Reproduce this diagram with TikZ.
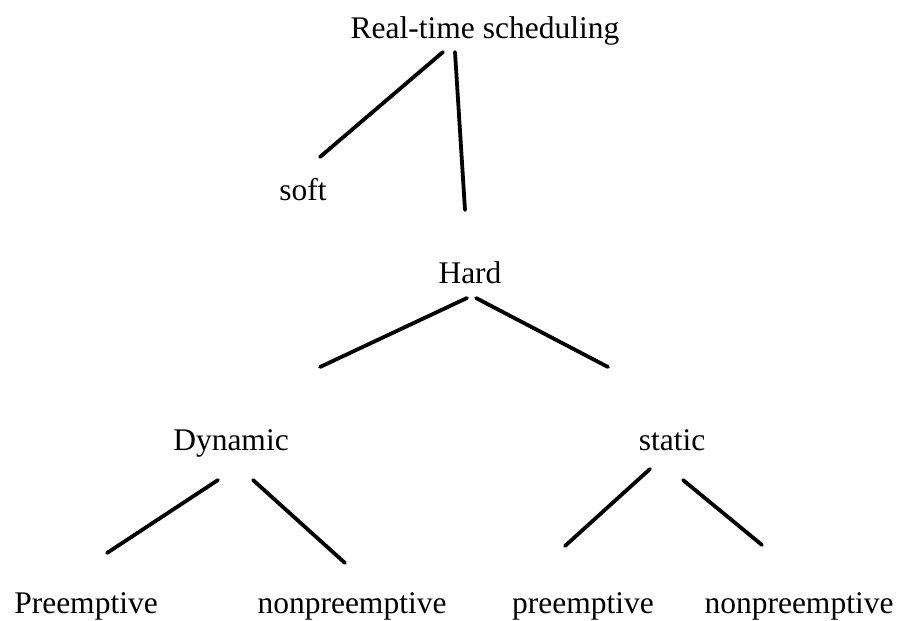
\documentclass[tikz,border=0pt]{standalone}
\usepackage{fontspec}
\setmainfont{Liberation Serif}
\begin{document}
\begin{tikzpicture}[x=1pt,y=-1pt,
  label/.style={anchor=base,inner sep=0pt,font=\fontsize{31.5}{36}\selectfont},
  branch/.style={line width=3.8pt,line cap=round}]
\useasboundingbox (0,0) rectangle (898,621);
\fill[white] (0,0) rectangle (898,621);

% labels of the tree
\node[label] (rt)   at (485,38)  {Real-time scheduling};
\node[label] (soft) at (303,200) {soft};
\node[label] (hard) at (470,283) {Hard};
\node[label] (dyn)  at (231,450) {Dynamic};
\node[label] (stat) at (672,450) {static};
\node[label] (dp)   at (86,613)  {Preemptive};
\node[label] (dn)   at (352,613) {nonpreemptive};
\node[label] (sp)   at (583,613) {preemptive};
\node[label] (sn)   at (799,613) {nonpreemptive};

% branch end points
\coordinate (rt-l)   at (443,52);
\coordinate (rt-r)   at (455,52);
\coordinate (soft-t) at (320,157);
\coordinate (hard-t) at (465,210);
\coordinate (hard-l) at (467,298);
\coordinate (hard-r) at (476,298);
\coordinate (dyn-t)  at (320,367);
\coordinate (stat-t) at (608,367);
\coordinate (dyn-l)  at (218,480);
\coordinate (dyn-r)  at (253,480);
\coordinate (dp-t)   at (107,553);
\coordinate (dn-t)   at (345,563);
\coordinate (stat-l) at (650,469);
\coordinate (stat-r) at (683,480);
\coordinate (sp-t)   at (565,546);
\coordinate (sn-t)   at (762,545);

% branches
\draw[branch] (rt-l) -- (soft-t);
\draw[branch] (rt-r) -- (hard-t);
\draw[branch] (hard-l) -- (dyn-t);
\draw[branch] (hard-r) -- (stat-t);
\draw[branch] (dyn-l) -- (dp-t);
\draw[branch] (dyn-r) -- (dn-t);
\draw[branch] (stat-l) -- (sp-t);
\draw[branch] (stat-r) -- (sn-t);
\end{tikzpicture}
\end{document}
